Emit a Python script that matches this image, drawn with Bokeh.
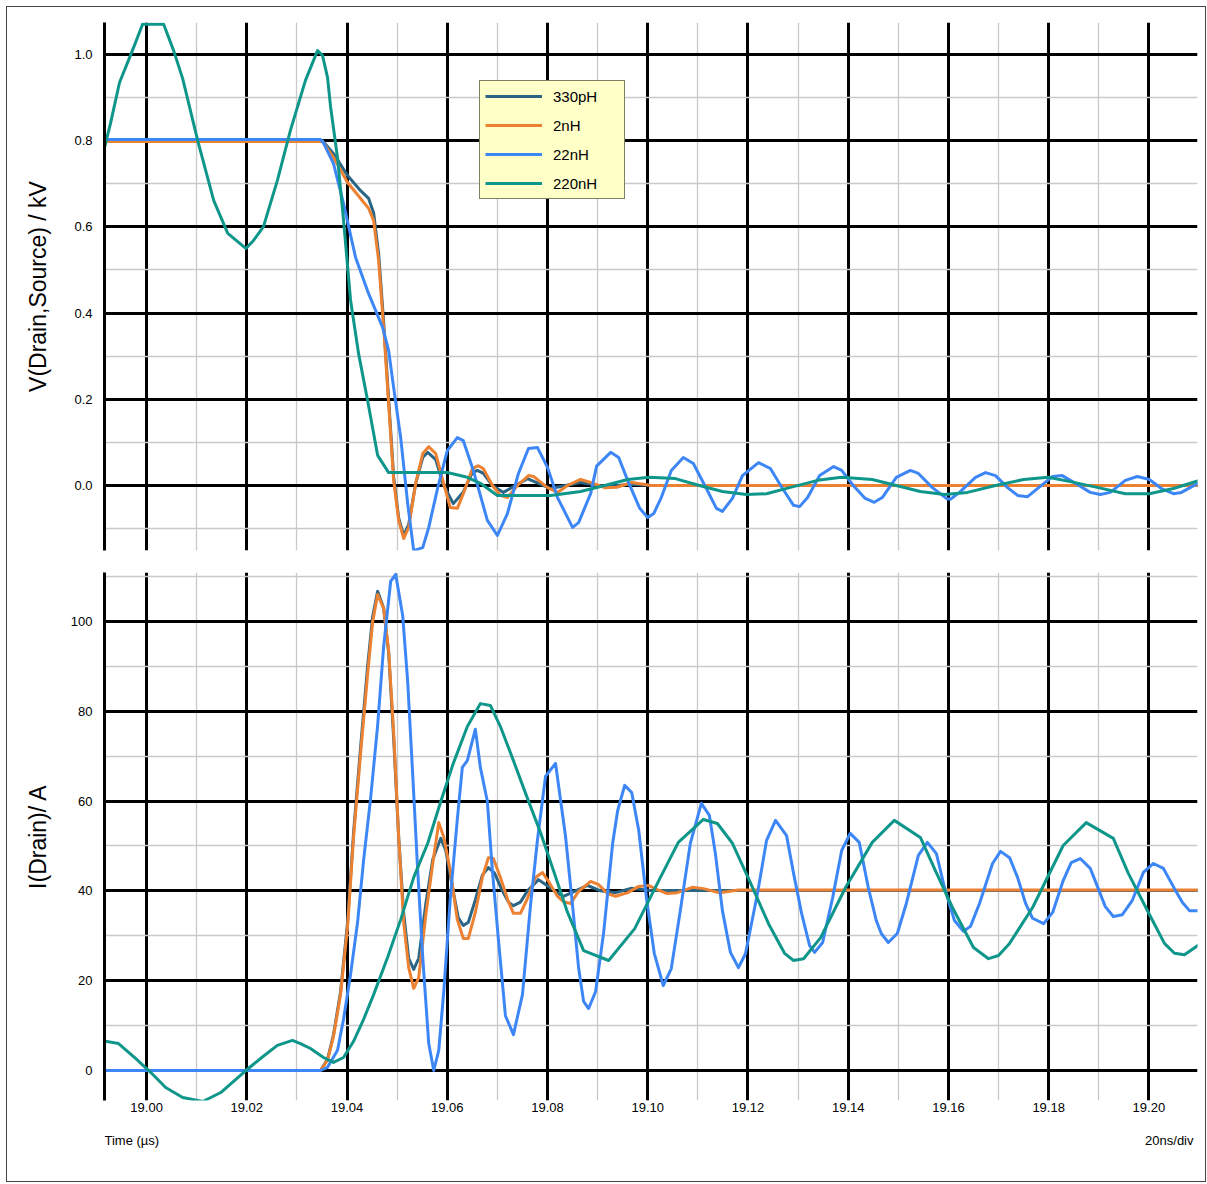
from bokeh.plotting import figure
from bokeh.layouts import column
from bokeh.models import (Range1d, SingleIntervalTicker, PrintfTickFormatter,
                          Legend, LegendItem)
from bokeh.core.properties import value
from bokeh.embed import file_html
from bokeh.resources import INLINE

# ---------------- data: V(Drain,Source) in kV vs time in us ----------------
t_v_330pH = [18.9910, 19.0351, 19.0373, 19.0401, 19.0427, 19.0443, 19.0453, 19.0463, 19.0473, 19.0483,
             19.0493, 19.0503, 19.0513, 19.0523, 19.0537, 19.0551, 19.0561, 19.0577, 19.0591, 19.0612,
             19.0632, 19.0650, 19.0660, 19.0672, 19.0690, 19.0712, 19.0736, 19.0760, 19.0806, 19.0866,
             19.0916, 19.0966, 19.1007, 19.2101]
v_330pH = [0.800, 0.800, 0.770, 0.719, 0.684, 0.666, 0.633, 0.538, 0.380, 0.200,
           0.020, -0.075, -0.116, -0.090, 0.005, 0.065, 0.077, 0.060, 0.005, -0.042,
           -0.015, 0.030, 0.035, 0.028, 0.000, -0.016, 0.000, 0.016, -0.007, 0.007,
           -0.003, 0.003, 0.000, 0.000]

t_v_2nH = [18.9910, 19.0351, 19.0373, 19.0401, 19.0427, 19.0443, 19.0453, 19.0463, 19.0473, 19.0483,
           19.0493, 19.0503, 19.0513, 19.0523, 19.0537, 19.0551, 19.0563, 19.0577, 19.0591, 19.0606,
           19.0620, 19.0632, 19.0650, 19.0662, 19.0672, 19.0690, 19.0706, 19.0720, 19.0740, 19.0762,
           19.0772, 19.0800, 19.0820, 19.0840, 19.0866, 19.0886, 19.0914, 19.0938, 19.0968, 19.1007,
           19.2101]
v_2nH = [0.798, 0.798, 0.761, 0.703, 0.666, 0.643, 0.615, 0.522, 0.367, 0.190,
         0.012, -0.081, -0.123, -0.097, 0.005, 0.074, 0.090, 0.074, 0.012, -0.051,
         -0.053, -0.019, 0.039, 0.046, 0.039, 0.000, -0.023, -0.028, 0.000, 0.023,
         0.021, -0.005, -0.016, 0.000, 0.014, 0.007, -0.005, -0.004, 0.007, 0.000,
         0.000]

t_v_22nH = [18.9910, 19.0347, 19.0353, 19.0373, 19.0393, 19.0417, 19.0443, 19.0471, 19.0483, 19.0493,
            19.0507, 19.0521, 19.0533, 19.0551, 19.0563, 19.0581, 19.0600, 19.0620, 19.0632, 19.0652,
            19.0680, 19.0700, 19.0720, 19.0742, 19.0762, 19.0780, 19.0800, 19.0820, 19.0850, 19.0862,
            19.0886, 19.0898, 19.0926, 19.0942, 19.0960, 19.0984, 19.1000, 19.1012, 19.1027, 19.1047,
            19.1071, 19.1091, 19.1117, 19.1137, 19.1149, 19.1169, 19.1189, 19.1221, 19.1245, 19.1269,
            19.1291, 19.1303, 19.1319, 19.1343, 19.1371, 19.1387, 19.1410, 19.1434, 19.1452, 19.1468,
            19.1496, 19.1524, 19.1540, 19.1568, 19.1596, 19.1604, 19.1622, 19.1654, 19.1674, 19.1694,
            19.1718, 19.1738, 19.1758, 19.1780, 19.1808, 19.1827, 19.1851, 19.1883, 19.1903, 19.1923,
            19.1953, 19.1977, 19.2001, 19.2025, 19.2049, 19.2065, 19.2101]
v_22nH = [0.803, 0.803, 0.795, 0.747, 0.654, 0.529, 0.445, 0.367, 0.313, 0.227,
          0.111, -0.042, -0.151, -0.144, -0.097, -0.005, 0.081, 0.111, 0.104, 0.035,
          -0.081, -0.116, -0.065, 0.028, 0.086, 0.088, 0.042, -0.028, -0.097, -0.086,
          -0.019, 0.045, 0.077, 0.065, 0.012, -0.053, -0.074, -0.065, -0.028, 0.035,
          0.065, 0.051, -0.007, -0.053, -0.060, -0.030, 0.023, 0.053, 0.039, -0.007,
          -0.046, -0.049, -0.028, 0.023, 0.044, 0.035, 0.000, -0.030, -0.039, -0.028,
          0.019, 0.035, 0.028, -0.005, -0.030, -0.032, -0.016, 0.019, 0.030, 0.023,
          -0.005, -0.023, -0.026, -0.005, 0.021, 0.023, 0.007, -0.016, -0.021, -0.016,
          0.012, 0.021, 0.014, -0.007, -0.019, -0.016, 0.007]

t_v_220nH = [18.9908, 18.9928, 18.9946, 18.9974, 18.9992, 19.0034, 19.0054, 19.0072, 19.0102, 19.0134,
             19.0162, 19.0198, 19.0213, 19.0233, 19.0261, 19.0287, 19.0317, 19.0341, 19.0351, 19.0361,
             19.0367, 19.0381, 19.0393, 19.0407, 19.0423, 19.0441, 19.0461, 19.0483, 19.0600, 19.0640,
             19.0666, 19.0700, 19.0806, 19.0840, 19.0866, 19.0914, 19.0960, 19.1003, 19.1055, 19.1103,
             19.1149, 19.1197, 19.1237, 19.1283, 19.1339, 19.1387, 19.1448, 19.1496, 19.1544, 19.1592,
             19.1638, 19.1694, 19.1750, 19.1799, 19.1843, 19.1899, 19.1953, 19.2001, 19.2049, 19.2101]
v_220nH = [0.747, 0.840, 0.935, 1.016, 1.070, 1.070, 1.009, 0.944, 0.800, 0.661,
           0.585, 0.550, 0.568, 0.600, 0.708, 0.824, 0.940, 1.009, 0.998, 0.947,
           0.880, 0.760, 0.615, 0.430, 0.306, 0.197, 0.070, 0.030, 0.030, 0.019,
           0.005, -0.023, -0.023, -0.018, -0.014, 0.000, 0.014, 0.019, 0.016, 0.000,
           -0.014, -0.021, -0.019, -0.005, 0.012, 0.019, 0.014, 0.000, -0.014, -0.021,
           -0.016, 0.000, 0.014, 0.019, 0.009, -0.005, -0.019, -0.019, -0.007, 0.012]

# ---------------- data: I(Drain) in A vs time in us ----------------
t_i_330pH = [18.9910, 19.0347, 19.0361, 19.0373, 19.0387, 19.0401, 19.0413, 19.0427, 19.0441, 19.0451,
             19.0461, 19.0473, 19.0483, 19.0493, 19.0503, 19.0513, 19.0523, 19.0533, 19.0543, 19.0557,
             19.0571, 19.0587, 19.0597, 19.0610, 19.0622, 19.0632, 19.0642, 19.0656, 19.0670, 19.0682,
             19.0694, 19.0710, 19.0722, 19.0732, 19.0746, 19.0760, 19.0782, 19.0802, 19.0820, 19.0832,
             19.0856, 19.0880, 19.0906, 19.0936, 19.0968, 19.1005, 19.2101]
i_330pH = [0.0, 0.0, 2.5, 8.0, 17.5, 33.0, 53.0, 72.0, 90.0, 101.0,
           106.7, 103.0, 93.0, 74.0, 52.0, 35.0, 25.0, 22.5, 25.0, 37.0,
           47.0, 51.7, 49.0, 41.0, 34.0, 32.3, 33.0, 38.0, 43.5, 45.2,
           44.0, 40.0, 37.5, 36.7, 37.5, 40.0, 42.5, 41.0, 39.5, 38.8,
           40.0, 41.2, 40.0, 39.6, 40.6, 40.1, 40.1]

t_i_2nH = [18.9910, 19.0347, 19.0361, 19.0373, 19.0387, 19.0401, 19.0413, 19.0427, 19.0441, 19.0451,
           19.0461, 19.0473, 19.0483, 19.0493, 19.0503, 19.0513, 19.0523, 19.0533, 19.0543, 19.0557,
           19.0571, 19.0583, 19.0593, 19.0606, 19.0620, 19.0632, 19.0642, 19.0656, 19.0670, 19.0682,
           19.0692, 19.0706, 19.0722, 19.0732, 19.0746, 19.0760, 19.0776, 19.0790, 19.0802, 19.0820,
           19.0832, 19.0846, 19.0862, 19.0886, 19.0902, 19.0920, 19.0936, 19.0960, 19.0982, 19.1001,
           19.1019, 19.1039, 19.1059, 19.1089, 19.1111, 19.1143, 19.1181, 19.2101]
i_2nH = [0.0, 0.0, 2.3, 7.6, 16.9, 32.0, 52.0, 70.6, 88.2, 99.8,
         106.0, 102.9, 93.5, 75.3, 52.0, 33.0, 22.9, 18.3, 20.7, 34.5,
         46.1, 55.2, 52.0, 44.5, 33.6, 29.4, 29.4, 35.2, 43.0, 47.4,
         47.2, 43.0, 37.6, 35.0, 35.0, 38.3, 43.0, 44.1, 42.1, 38.8,
         37.6, 37.2, 39.9, 42.1, 41.4, 39.4, 38.8, 39.6, 41.0, 41.2,
         40.3, 39.4, 39.6, 40.8, 40.5, 39.6, 40.2, 40.2]

t_i_22nH = [18.9910, 19.0347, 19.0361, 19.0381, 19.0393, 19.0407, 19.0421, 19.0433, 19.0447, 19.0461,
            19.0473, 19.0487, 19.0497, 19.0511, 19.0521, 19.0531, 19.0541, 19.0551, 19.0563, 19.0573,
            19.0583, 19.0593, 19.0606, 19.0620, 19.0630, 19.0640, 19.0656, 19.0666, 19.0680, 19.0690,
            19.0702, 19.0716, 19.0732, 19.0750, 19.0766, 19.0780, 19.0796, 19.0816, 19.0836, 19.0850,
            19.0862, 19.0872, 19.0882, 19.0896, 19.0912, 19.0930, 19.0940, 19.0954, 19.0968, 19.0982,
            19.0998, 19.1013, 19.1031, 19.1047, 19.1065, 19.1085, 19.1107, 19.1123, 19.1135, 19.1149,
            19.1165, 19.1181, 19.1195, 19.1219, 19.1237, 19.1255, 19.1277, 19.1291, 19.1307, 19.1323,
            19.1333, 19.1349, 19.1369, 19.1387, 19.1404, 19.1422, 19.1440, 19.1456, 19.1466, 19.1480,
            19.1498, 19.1516, 19.1540, 19.1558, 19.1576, 19.1592, 19.1612, 19.1630, 19.1644, 19.1662,
            19.1688, 19.1704, 19.1722, 19.1738, 19.1754, 19.1768, 19.1790, 19.1808, 19.1829, 19.1845,
            19.1863, 19.1883, 19.1899, 19.1913, 19.1929, 19.1947, 19.1967, 19.1989, 19.2009, 19.2029,
            19.2051, 19.2067, 19.2081, 19.2101]
i_22nH = [0.0, 0.0, 0.7, 4.5, 11.4, 21.4, 33.0, 46.8, 60.6, 76.8,
          94.4, 108.9, 110.5, 101.3, 86.6, 65.9, 44.5, 25.2, 6.0, 0.0,
          4.5, 17.6, 38.3, 55.9, 67.5, 69.0, 76.0, 67.5, 59.9, 44.5,
          29.2, 12.2, 8.0, 16.9, 36.7, 51.4, 65.5, 68.4, 52.1, 36.7,
          22.9, 15.4, 13.8, 17.6, 30.7, 50.6, 57.9, 63.5, 61.9, 53.5,
          37.9, 26.1, 18.9, 22.7, 35.6, 50.6, 59.5, 56.8, 48.3, 35.6,
          26.3, 22.9, 26.0, 39.4, 51.2, 55.7, 52.3, 43.9, 35.0, 27.8,
          26.3, 28.5, 38.5, 49.0, 52.8, 50.8, 40.8, 33.4, 30.5, 28.5,
          30.5, 37.2, 47.9, 50.8, 48.3, 40.8, 33.4, 31.0, 32.1, 37.2,
          46.1, 48.8, 47.4, 43.0, 37.2, 33.9, 32.7, 35.2, 42.3, 46.3,
          47.2, 45.0, 40.5, 36.5, 34.3, 34.7, 37.9, 44.1, 46.1, 45.0,
          40.5, 37.4, 35.6, 35.6]

t_i_220nH = [18.9908, 18.9944, 18.9978, 19.0008, 19.0038, 19.0072, 19.0112, 19.0148, 19.0198, 19.0231,
             19.0261, 19.0291, 19.0307, 19.0327, 19.0353, 19.0373, 19.0393, 19.0413, 19.0433, 19.0453,
             19.0481, 19.0507, 19.0533, 19.0561, 19.0587, 19.0612, 19.0640, 19.0666, 19.0686, 19.0706,
             19.0732, 19.0760, 19.0786, 19.0812, 19.0840, 19.0872, 19.0922, 19.0974, 19.1019, 19.1061,
             19.1111, 19.1139, 19.1169, 19.1203, 19.1241, 19.1273, 19.1291, 19.1311, 19.1345, 19.1395,
             19.1448, 19.1492, 19.1544, 19.1574, 19.1608, 19.1650, 19.1680, 19.1700, 19.1722, 19.1768,
             19.1829, 19.1875, 19.1929, 19.1959, 19.2005, 19.2031, 19.2051, 19.2071, 19.2101]
i_220nH = [6.7, 6.0, 2.7, -0.4, -3.8, -6.0, -6.9, -4.9, 0.0, 3.0,
           5.6, 6.7, 6.0, 4.9, 2.9, 1.8, 2.9, 6.5, 11.4, 16.9,
           25.2, 33.6, 43.0, 50.6, 59.9, 68.4, 76.6, 81.7, 81.3, 76.6,
           69.0, 60.6, 53.0, 44.5, 35.2, 26.7, 24.5, 31.6, 41.6, 50.8,
           55.9, 55.0, 50.6, 42.3, 32.7, 26.1, 24.5, 24.9, 29.6, 40.8,
           50.8, 55.7, 51.9, 44.5, 36.3, 27.4, 24.9, 25.6, 28.3, 36.3,
           50.1, 55.2, 51.7, 43.9, 33.9, 28.3, 26.1, 25.8, 28.1]

series_names = ["330pH", "2nH", "22nH", "220nH"]
series_colors = ["#2a6586", "#ec8131", "#3d86f6", "#0f968a"]

time_label = "Time (µs)"
scale_label = "20ns/div"
v_label = "V(Drain,Source) / kV"
i_label = "I(Drain)/ A"

# ---------------- layout constants ----------------
FONT = "Liberation Sans"
FIG_W = 1198
LEFT_B = 97
RIGHT_B = 8

x_range = Range1d(18.9916, 19.2097)


def style(p, y_interval, y_fmt, ylabel, label_standoff):
    p.background_fill_color = "white"
    p.border_fill_color = "white"
    p.outline_line_color = None
    xt = SingleIntervalTicker(interval=0.02, num_minor_ticks=2)
    yt = SingleIntervalTicker(interval=y_interval, num_minor_ticks=2)
    p.xaxis.ticker = xt
    p.yaxis.ticker = yt
    p.xgrid.ticker = xt
    p.ygrid.ticker = yt
    for g in (p.xgrid, p.ygrid):
        g.grid_line_color = "black"
        g.grid_line_width = 3
        g.minor_grid_line_color = "#c9c9c9"
        g.minor_grid_line_width = 1.3
    p.yaxis.formatter = PrintfTickFormatter(format=y_fmt)
    p.yaxis.axis_line_color = "black"
    p.yaxis.axis_line_width = 3
    p.yaxis.major_tick_line_color = None
    p.yaxis.minor_tick_line_color = None
    p.yaxis.major_label_text_font = FONT
    p.yaxis.major_label_text_font_size = "13px"
    p.yaxis.major_label_text_color = "black"
    p.yaxis.major_label_standoff = 6
    p.yaxis.axis_label = ylabel
    p.yaxis.axis_label_text_font = FONT
    p.yaxis.axis_label_text_font_size = "23px"
    p.yaxis.axis_label_text_font_style = "normal"
    p.yaxis.axis_label_text_color = "black"
    p.yaxis.axis_label_standoff = label_standoff
    p.xaxis.formatter = PrintfTickFormatter(format="%.2f")
    p.xaxis.axis_line_color = None
    p.xaxis.major_tick_line_color = None
    p.xaxis.minor_tick_line_color = None
    p.xaxis.major_label_text_font = FONT
    p.xaxis.major_label_text_font_size = "13px"
    p.xaxis.major_label_text_color = "black"
    p.xaxis.major_label_standoff = -4


# ---------------- top: voltage ----------------
p1 = figure(width=FIG_W, height=554, x_range=x_range, y_range=Range1d(-0.1508, 1.0742),
            output_backend="svg", toolbar_location=None,
            min_border_left=LEFT_B, min_border_right=RIGHT_B,
            min_border_top=15, min_border_bottom=11)
style(p1, 0.2, "%.1f", v_label, 20)
p1.xaxis.visible = False

v_series = [(t_v_330pH, v_330pH), (t_v_2nH, v_2nH), (t_v_22nH, v_22nH), (t_v_220nH, v_220nH)]
items = []
for (tt, vv), name, col in zip(v_series, series_names, series_colors):
    r = p1.line(tt, vv, line_color=col, line_width=3, line_join="round")
    items.append(LegendItem(label=name, renderers=[r]))

legend = Legend(items=items, location=(375, 351), margin=0, padding=5, spacing=9,
                glyph_width=57, glyph_height=20, label_height=20, label_width=66,
                label_standoff=11, label_text_font=FONT, label_text_font_size="15px",
                label_text_color="black",
                background_fill_color="#ffffc8", background_fill_alpha=1.0,
                border_line_color="black", border_line_width=1)
p1.add_layout(legend)

# ---------------- bottom: current ----------------
p2 = figure(width=FIG_W, height=559, x_range=x_range, y_range=Range1d(-6.68, 110.9),
            output_backend="svg", toolbar_location=None,
            min_border_left=LEFT_B, min_border_right=RIGHT_B,
            min_border_top=11, min_border_bottom=20)
style(p2, 20, "%d", i_label, 17)

i_series = [(t_i_330pH, i_330pH), (t_i_2nH, i_2nH), (t_i_22nH, i_22nH), (t_i_220nH, i_220nH)]
for (tt, ii), col in zip(i_series, series_colors):
    p2.line(tt, ii, line_color=col, line_width=3, line_join="round")

# ---------------- footer strip with the time caption and the scale ----------------
p3 = figure(width=FIG_W, height=61, x_range=x_range, y_range=Range1d(0, 61),
            output_backend="svg", toolbar_location=None,
            min_border_left=LEFT_B, min_border_right=RIGHT_B,
            min_border_top=0, min_border_bottom=0)
p3.axis.visible = False
p3.grid.visible = False
p3.outline_line_color = None
p3.background_fill_color = "white"
p3.border_fill_color = "white"
p3.text(x=[x_range.start], y=[41], text=[time_label], text_align="left",
        text_baseline="middle", text_font=value(FONT), text_font_size="13px",
        text_color="black")
p3.text(x=[x_range.end], y=[41], text=[scale_label], text_align="right",
        text_baseline="middle", text_font=value(FONT), text_font_size="13px",
        text_color="black", x_offset=-4)

layout = column(p1, p2, p3, spacing=0, margin=(6, 0, 0, 6),
                styles={"border": "1px solid #444"})

open("out.html", "w").write(file_html(layout, INLINE))
